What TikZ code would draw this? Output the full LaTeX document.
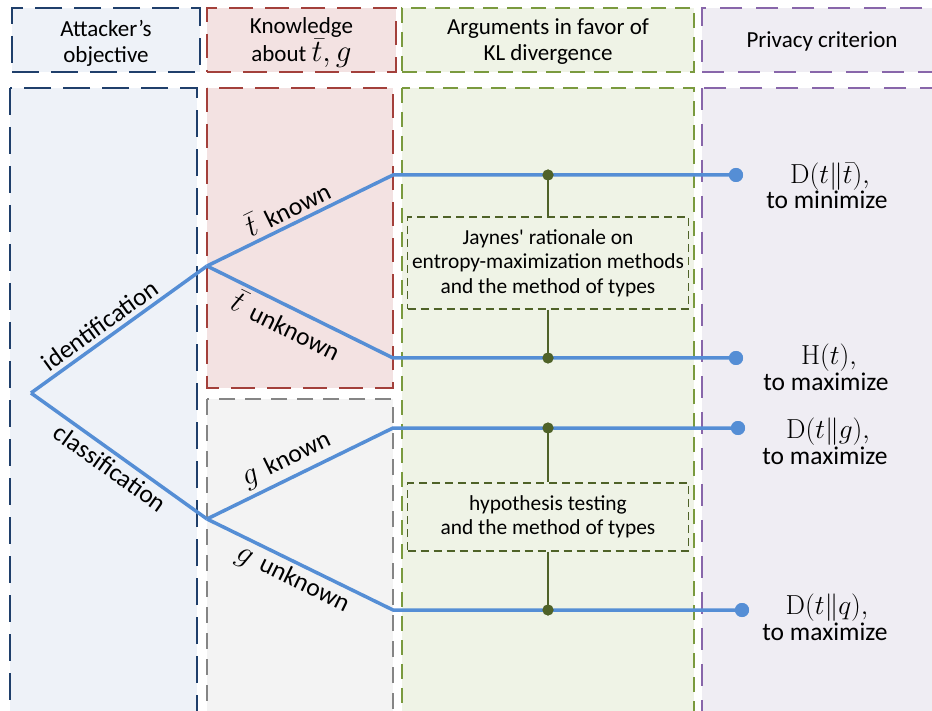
\documentclass[tikz,border=0pt]{standalone}
\usepackage{fix-cm}
\usepackage[no-math]{fontspec}
\setmainfont{Carlito}
\definecolor{treeblue}{HTML}{558ED5}
\definecolor{dgreen}{HTML}{4F6228}
\definecolor{bdark}{HTML}{1F3F6B}
\definecolor{bfill}{HTML}{EEF2F8}
\definecolor{rdark}{HTML}{A3403B}
\definecolor{rfill}{HTML}{F3E2E2}
\definecolor{gydark}{HTML}{858585}
\definecolor{gyfill}{HTML}{F3F3F3}
\definecolor{grdark}{HTML}{7A9A3E}
\definecolor{grfill}{HTML}{EFF3E6}
\definecolor{pdark}{HTML}{8866AA}
\definecolor{pfill}{HTML}{EFEDF3}
\newcommand\fHead{\fontsize{23}{26}\selectfont}
\newcommand\fBody{\fontsize{25.5}{28}\selectfont}
\newcommand\fArg{\fontsize{21.4}{24.5}\selectfont}
\newcommand\fMath{\fontsize{27.5}{30}\selectfont}
\newcommand\lgMath[1]{{\fontsize{31}{30}\selectfont$#1$}}
\begin{document}
\begin{tikzpicture}[x=1pt,y=-1pt,
  box/.style={line width=2pt, inner sep=0pt, outer sep=0pt},
  bluebox/.style={box, draw=bdark, fill=bfill, dash pattern=on 27pt off 12pt},
  redbox/.style={box, draw=rdark, fill=rfill, dash pattern=on 24pt off 12pt},
  graybox/.style={box, draw=gydark, fill=gyfill, dash pattern=on 16pt off 10pt},
  greenbox/.style={box, draw=grdark, fill=grfill, dash pattern=on 15pt off 9pt},
  purplebox/.style={box, draw=pdark, fill=pfill, dash pattern=on 22pt off 14pt},
  hdr/.style={align=center, font=\fHead, text=black, inner sep=0pt},
  tree/.style={line width=3.5pt, draw=treeblue, line join=round},
  lbl/.style={font=\fBody, sloped, inner sep=4pt},
  bdot/.style={circle, fill=treeblue, inner sep=0pt, minimum size=14pt},
  gdot/.style={circle, fill=dgreen, inner sep=0pt, minimum size=11pt},
  gline/.style={line width=2pt, draw=dgreen},
  argbox/.style={draw=dgreen, line width=1.3pt, dash pattern=on 8pt off 5pt, minimum width=281pt, align=center, font=\fArg, inner sep=0pt},
  mlab/.style={font=\fMath, anchor=base, inner sep=0pt},
  tlab/.style={font=\fBody, anchor=base, inner sep=0pt}
]
\clip (0,0) rectangle (932,711);
% body columns
\draw[bluebox] (10,88) rectangle (197,760);
\draw[redbox] (207,88) rectangle (393,388);
\draw[graybox] (207,399) rectangle (393,760);
\draw[greenbox] (402,88) rectangle (694,760);
\draw[purplebox] (702,88) rectangle (960,760);
% headers
\node[bluebox, minimum width=188pt, minimum height=64pt,
  label={[hdr, yshift=-3pt]center:Attacker’s\\objective}] (h1) at (106,40) {};
\node[redbox, minimum width=189pt, minimum height=64pt,
  label={[hdr, yshift=-3pt]center:Knowledge\\about \lgMath{\bar{t},g}}] (h2) at (301.5,40) {};
\node[greenbox, minimum width=292pt, minimum height=64pt,
  label={[hdr, yshift=-2pt]center:Arguments in favor of\\KL divergence}] (h3) at (548,40) {};
\node[purplebox, minimum width=240pt, minimum height=64pt,
  label={[hdr, yshift=-1pt]center:Privacy criterion}] (h4) at (822,40) {};
% argument boxes
\node[argbox, minimum height=92pt] (a1) at (548,263) {Jaynes\textquotesingle{} rationale on\\entropy-maximization methods\\and the method of types};
\node[argbox, minimum height=68pt] (a2) at (548,517) {hypothesis testing\\and the method of types};
% tree coordinates
\coordinate (root) at (31,393);
\coordinate (bId) at (207,266);
\coordinate (bCl) at (207,519);
\coordinate (c1) at (393,175);
\coordinate (c2) at (393,358);
\coordinate (c3) at (393,428);
\coordinate (c4) at (393,610);
\node[bdot] (e1) at (736,175) {};
\node[bdot] (e2) at (736,358) {};
\node[bdot] (e3) at (738,428) {};
\node[bdot] (e4) at (742,610) {};
% tree
\draw[tree] (root) -- node[lbl, above, pos=0.44] {identification} (bId);
\draw[tree] (root) -- node[lbl, below, pos=0.5] {classification} (bCl);
\draw[tree] (bId) -- node[lbl, above, pos=0.47] {\lgMath{\bar{t}}\, known} (c1) -- (e1.center);
\draw[tree] (bId) -- node[lbl, below, pos=0.47] {\lgMath{\bar{t}}\, unknown} (c2) -- (e2.center);
\draw[tree] (bCl) -- node[lbl, above, pos=0.47] {\lgMath{g}\, known} (c3) -- (e3.center);
\draw[tree] (bCl) -- node[lbl, below, pos=0.5] {\lgMath{g}\, unknown} (c4) -- (e4.center);
\node[bdot] at (e1) {};
\node[bdot] at (e2) {};
\node[bdot] at (e3) {};
\node[bdot] at (e4) {};
% junctions
\node[gdot] (j1) at (548,175) {};
\node[gdot] (j2) at (548,358) {};
\node[gdot] (j3) at (548,428) {};
\node[gdot] (j4) at (548,610) {};
\draw[gline] (j1.center) -- (a1.north);
\draw[gline] (a1.south) -- (j2.center);
\draw[gline] (j3.center) -- (a2.north);
\draw[gline] (a2.south) -- (j4.center);
\node[gdot] at (j1) {};
\node[gdot] at (j2) {};
\node[gdot] at (j3) {};
\node[gdot] at (j4) {};
% criteria
\node[mlab] (m1) at (830,184) {$\mathrm{D}(t\|\bar{t}),$};
\node[tlab] (m1t) at (827,209) {to minimize};
\node[mlab] (m2) at (829,365) {$\mathrm{H}(t),$};
\node[tlab] (m2t) at (826,390) {to maximize};
\node[mlab] (m3) at (828,438) {$\mathrm{D}(t\|g),$};
\node[tlab] (m3t) at (825,464) {to maximize};
\node[mlab] (m4) at (827,614) {$\mathrm{D}(t\|q),$};
\node[tlab] (m4t) at (825,640) {to maximize};
\end{tikzpicture}
\end{document}
